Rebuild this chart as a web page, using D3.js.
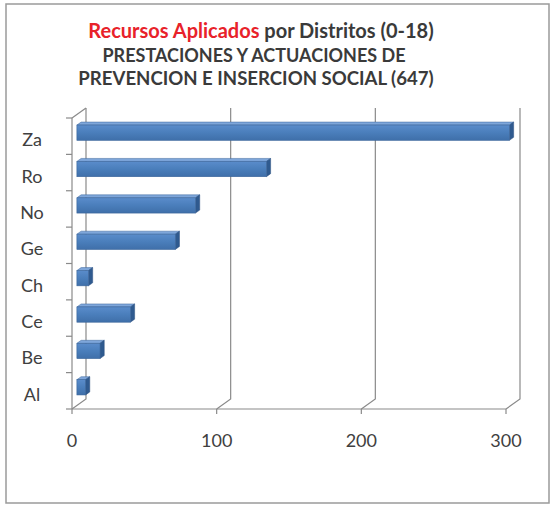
<!DOCTYPE html>
<html><head><meta charset="utf-8">
<script src="https://cdn.jsdelivr.net/npm/d3@7"></script>
<style>body{margin:0;background:#fff}svg{display:block}</style>
</head><body>
<script>
const categories = ["Za","Ro","No","Ge","Ch","Ce","Be","Al"];
const values = [299,131,82,68,8,37,16,6];
const xTicks = [0,100,200,300];
const titleLine1a = "Recursos Aplicados";
const titleLine1b = " por Distritos (0-18)";
const titleLine2 = "PRESTACIONES Y ACTUACIONES DE";
const titleLine3 = "PREVENCION E INSERCION SOCIAL (647)";

const W = 555, H = 505;
const svg = d3.select("body").append("svg").attr("width", W).attr("height", H);

// chart border
svg.append("rect").attr("x",6).attr("y",4).attr("width",543).attr("height",499)
  .attr("fill","#fff").attr("stroke","#9a9a9a").attr("stroke-width",1.5);

// 3D geometry
const dx = 14, dy = -10;
const x = d3.scaleLinear().domain([0,300]).range([72,506]);
const y = d3.scaleBand().domain(categories).range([118,409]);
const grid = "#8a8a8a";

const g = svg.append("g");
xTicks.forEach(t => {
  const xf = x(t);
  g.append("path").attr("d", `M${xf},409 L${xf+dx},${409+dy} L${xf+dx},${118+dy}`)
   .attr("fill","none").attr("stroke",grid).attr("stroke-width",1.2);
});
g.append("path").attr("d", `M${x(0)},118 L${x(0)+dx},${118+dy}`).attr("fill","none").attr("stroke",grid).attr("stroke-width",1.2);
g.append("line").attr("x1",x(0)).attr("x2",x(0)).attr("y1",118).attr("y2",409).attr("stroke",grid).attr("stroke-width",1.2);
g.append("line").attr("x1",x(0)).attr("x2",x(300)).attr("y1",409).attr("y2",409).attr("stroke",grid).attr("stroke-width",1.2);
categories.concat([null]).forEach((c,i) => {
  const yy = c ? y(c) : 409;
  g.append("line").attr("x1",x(0)-6).attr("x2",x(0)).attr("y1",yy).attr("y2",yy).attr("stroke",grid).attr("stroke-width",1.2);
});
xTicks.forEach(t => {
  g.append("line").attr("x1",x(t)).attr("x2",x(t)).attr("y1",409).attr("y2",414).attr("stroke",grid).attr("stroke-width",1.2);
});

// bars
const f0 = 0.35, f1 = 0.65;
const bh = y.bandwidth()*0.42;
const defs = svg.append("defs");
const lg = defs.append("linearGradient").attr("id","front").attr("x1",0).attr("y1",0).attr("x2",0).attr("y2",1);
lg.append("stop").attr("offset","0").attr("stop-color","#5a8ccb");
lg.append("stop").attr("offset","0.5").attr("stop-color","#4a7ebb");
lg.append("stop").attr("offset","1").attr("stop-color","#3f6fa9");

categories.forEach((c,i) => {
  const v = values[i];
  const yc = y(c) + y.bandwidth()/2;
  const x0 = x(0) + f0*dx, x1 = x(v) + f0*dx;
  const yt = yc - bh/2 + f0*dy, yb = yc + bh/2 + f0*dy;
  const ox = (f1-f0)*dx, oy = (f1-f0)*dy;
  g.append("path").attr("d", `M${x0},${yt} L${x0+ox},${yt+oy} L${x1+ox},${yt+oy} L${x1},${yt} Z`)
   .attr("fill","#7ea6da").attr("stroke","#3b659a").attr("stroke-width",0.5);
  g.append("path").attr("d", `M${x1},${yt} L${x1+ox},${yt+oy} L${x1+ox},${yb+oy} L${x1},${yb} Z`)
   .attr("fill","#2f5a8f").attr("stroke","#2a4f7f").attr("stroke-width",0.5);
  g.append("rect").attr("x",x0).attr("y",yt).attr("width",x1-x0).attr("height",yb-yt)
   .attr("fill","url(#front)").attr("stroke","#3b659a").attr("stroke-width",0.6);
});

// labels
const font = "Lato, 'Open Sans', sans-serif";
categories.forEach(c => {
  svg.append("text").attr("x",32).attr("y", y(c)+y.bandwidth()/2+3).attr("text-anchor","middle")
    .attr("dominant-baseline","central").attr("font-family",font).attr("font-size",18).attr("fill","#404040").text(c);
});
xTicks.forEach(t => {
  svg.append("text").attr("x",x(t)).attr("y",440).attr("text-anchor","middle")
    .attr("dominant-baseline","central").attr("font-family",font).attr("font-size",18).attr("fill","#404040").text(t);
});

// title
const t1 = svg.append("text").attr("x",261).attr("y",38).attr("text-anchor","middle")
  .attr("font-family",font).attr("font-weight","bold").attr("font-size",20);
t1.append("tspan").attr("fill","#e8222a").text(titleLine1a);
t1.append("tspan").attr("fill","#3a3a3a").text(titleLine1b);
svg.append("text").attr("x",254).attr("y",62).attr("text-anchor","middle")
  .attr("font-family",font).attr("font-weight","bold").attr("font-size",18).attr("fill","#3a3a3a").text(titleLine2);
svg.append("text").attr("x",256).attr("y",85).attr("text-anchor","middle")
  .attr("font-family",font).attr("font-weight","bold").attr("font-size",18.6).attr("fill","#3a3a3a").text(titleLine3);
</script>
</body></html>
